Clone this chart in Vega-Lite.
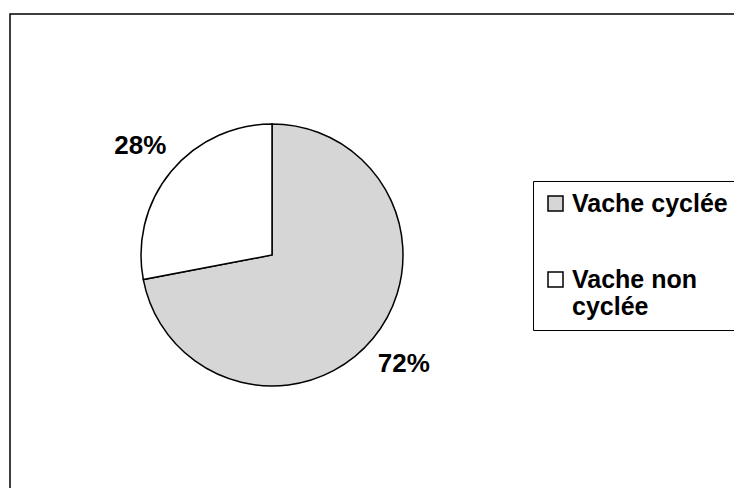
{
  "$schema": "https://vega.github.io/schema/vega-lite/v6.json",
  "width": 724,
  "height": 474,
  "autosize": {"type": "none"},
  "padding": {"left": 10, "top": 14, "right": 0, "bottom": 0},
  "background": "white",
  "config": {
    "view": {"stroke": null},
    "font": "Liberation Sans"
  },
  "data": {
    "values": [
      {"categorie": "Vache cyclée", "pct": 72, "label": "72%", "ordre": 1},
      {"categorie": "Vache non cyclée", "pct": 28, "label": "28%", "ordre": 2}
    ]
  },
  "layer": [
    {
      "data": {"values": [{"cadre": "cadre"}]},
      "mark": {"type": "rect", "fill": "white", "stroke": "black", "strokeWidth": 1.5, "x": 0, "y": 0, "x2": {"expr": "width + 6"}, "y2": {"expr": "height + 6"}},
      "encoding": {}
    },
    {
      "mark": {"type": "arc", "x": 262, "y": 241, "outerRadius": 131, "stroke": "black", "strokeWidth": 1.5},
      "encoding": {
        "theta": {"field": "pct", "type": "quantitative", "stack": true},
        "order": {"field": "ordre", "type": "quantitative"},
        "color": {
          "field": "categorie",
          "type": "nominal",
          "scale": {"domain": ["Vache cyclée", "Vache non cyclée"], "range": ["#d6d6d6", "#ffffff"]},
          "legend": {
            "orient": "none",
            "legendX": 523,
            "legendY": 167,
            "title": null,
            "strokeColor": "black",
            "fillColor": "white",
            "padding": 10,
            "symbolType": "square",
            "symbolSize": 225,
            "symbolStrokeColor": "black",
            "symbolStrokeWidth": 1.5,
            "symbolOpacity": 1,
            "labelFontSize": 25,
            "labelFont": "Liberation Sans",
            "labelFontWeight": "bold",
            "labelColor": "black",
            "labelLimit": 400,
            "labelOffset": 4,
            "rowPadding": 50,
            "labelExpr": "datum.label == 'Vache non cyclée' ? ['Vache non', 'cyclée'] : datum.label + '   '"
          }
        }
      }
    },
    {
      "mark": {"type": "text", "x": 262, "y": 241, "radius": 171, "fontSize": 26, "fontWeight": "bold", "font": "Liberation Sans", "fill": "black"},
      "encoding": {
        "theta": {"field": "pct", "type": "quantitative", "stack": true},
        "order": {"field": "ordre", "type": "quantitative"},
        "text": {"field": "label", "type": "nominal"}
      }
    }
  ]
}
